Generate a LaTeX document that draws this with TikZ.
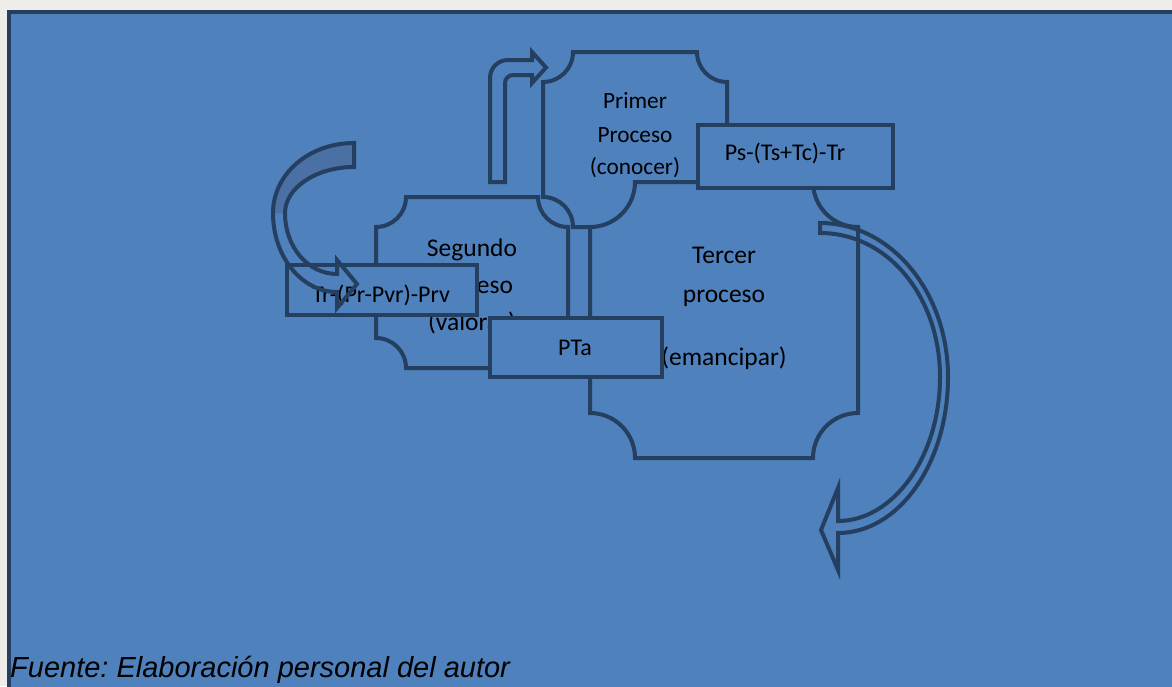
\documentclass[tikz,border=0pt]{standalone}
\usepackage{fontspec}
\setmainfont{Carlito}
\newfontfamily\capfont{Liberation Sans}
\definecolor{bgblue}{HTML}{4F81BD}
\definecolor{edge}{HTML}{243F60}
\definecolor{margin}{HTML}{EEEDEA}
\definecolor{bandfill}{HTML}{4A70A4}
\tikzset{
  shapeline/.style={draw=edge, line width=4pt, fill=bgblue, line join=miter},
  arrowline/.style={draw=edge, line width=4pt, line join=miter},
  boxst/.style={draw=edge, line width=4pt, fill=bgblue, inner sep=0pt},
  lbl/.style={inner sep=0pt, anchor=base, text=black},
  bigtxt/.style={lbl, font=\fontsize{25.5}{30}\selectfont},
  midtxt/.style={lbl, font=\fontsize{23.3}{28}\selectfont},
  boxtxt/.style={lbl, font=\fontsize{24}{29}\selectfont},
}
\newcommand{\plaqueshape}[5]{%
  \draw[shapeline] ({#1+#5},#2) -- ({#3-#5},#2)
    .. controls ({#3-#5},{#2+0.5523*#5}) and ({#3-0.5523*#5},{#2+#5}) .. (#3,{#2+#5})
    -- (#3,{#4-#5})
    .. controls ({#3-0.5523*#5},{#4-#5}) and ({#3-#5},{#4-0.5523*#5}) .. ({#3-#5},#4)
    -- ({#1+#5},#4)
    .. controls ({#1+#5},{#4-0.5523*#5}) and ({#1+0.5523*#5},{#4-#5}) .. (#1,{#4-#5})
    -- (#1,{#2+#5})
    .. controls ({#1+0.5523*#5},{#2+#5}) and ({#1+#5},{#2+0.5523*#5}) .. ({#1+#5},#2)
    -- cycle;}
\frenchspacing
\begin{document}
\begin{tikzpicture}[x=1pt,y=-1pt]
\useasboundingbox (0,0) rectangle (1172,686);
\fill[margin] (0,0) rectangle (1172,686);
\begin{scope}
  \clip (0,0) rectangle (1172,686);
  \draw[line width=4pt, draw=edge, fill=bgblue] (9,12) rectangle (1190,700);
\end{scope}

% upper band fill of left curved arrow
\fill[bandfill] (354,143) .. controls (309,143) and (273,174) .. (273,213)
  -- (285,213) .. controls (285,188) and (316,167) .. (354,167) -- cycle;

% plaques
\plaqueshape{376}{197}{568}{368}{30}
\plaqueshape{543}{52}{727}{227}{30}
\plaqueshape{590}{182}{858}{458}{45}

% plaque texts
\node[midtxt] (t1a) at (635,108) {Primer};
\node[midtxt] (t1b) at (635,142) {Proceso};
\node[midtxt] (t1c) at (635,174) {(conocer)};
\node[bigtxt] (t2a) at (472,256) {Segundo};
\node[bigtxt] (t2b) at (472,293) {Proceso};
\node[bigtxt] (t2c) at (472,330) {(valorar)};
\node[bigtxt] (t3a) at (724,263) {Tercer};
\node[bigtxt] (t3b) at (724,302) {proceso};
\node[bigtxt] (t3c) at (724,365) {(emancipar)};

% boxes
\node[boxst, minimum width=195pt, minimum height=63pt] (psbox) at (795.5,156.5) {};
\node[boxtxt] (pstxt) at (785,160) {Ps-(Ts+Tc)-Tr};
\node[boxst, minimum width=172pt, minimum height=59pt] (ptabox) at (576,347.5) {};
\node[boxtxt] (ptatxt) at (575,355) {PTa};
\node[boxst, minimum width=190pt, minimum height=50pt] (trbox) at (382,290) {};
\node[boxtxt] (trtxt) at (381,302) {Tr-(Pr-Pvr)-Prv};

% left curved arrow outline
\draw[arrowline] (354,143) .. controls (309,143) and (273,174) .. (273,213)
  .. controls (273,257) and (302,292) .. (337,292) -- (337,308) -- (357,284)
  -- (337,260) -- (337,274) .. controls (308,274) and (285,247) .. (285,213)
  .. controls (285,188) and (316,167) .. (354,167) -- cycle;

% bent arrow
\draw[arrowline] (490,182) -- (490,78) .. controls (490,68) and (498,60) .. (508,60)
  -- (532,60) -- (532,52) -- (546,67.5) -- (532,83) -- (532,75) -- (513,75)
  .. controls (508.6,75) and (505,78.6) .. (505,83) -- (505,182) -- cycle;

% right curved arrow
\draw[arrowline] (820,223) .. controls (891,223) and (948,292) .. (948,377)
  .. controls (948,463) and (899,533) .. (838,533) -- (838,570) -- (821,530)
  -- (838,488) -- (838,521) .. controls (893,521) and (940,457) .. (940,377)
  .. controls (940,297) and (888,233) .. (820,233) -- cycle;

% caption
\node[anchor=base west, inner sep=0pt, font=\capfont\itshape\fontsize{29}{34}\selectfont] (cap) at (10,677) {Fuente: Elaboración personal del autor};
\end{tikzpicture}
\end{document}
